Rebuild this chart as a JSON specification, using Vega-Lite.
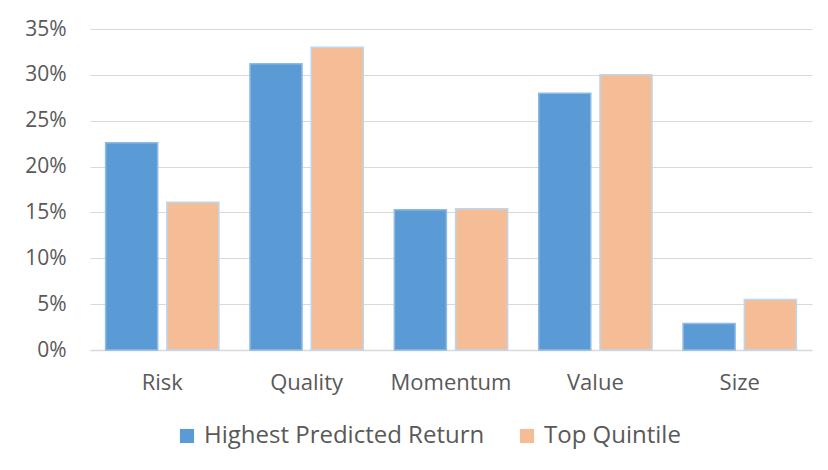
{
  "$schema": "https://vega.github.io/schema/vega-lite/v6.json",
  "width": 722,
  "height": 321,
  "autosize": {"type": "none"},
  "padding": {"left": 90, "top": 29, "right": 16, "bottom": 120},
  "background": "white",
  "data": {
    "values": [
      {"factor": "Risk", "series": "Highest Predicted Return", "value": 0.226},
      {"factor": "Risk", "series": "Top Quintile", "value": 0.161},
      {"factor": "Quality", "series": "Highest Predicted Return", "value": 0.312},
      {"factor": "Quality", "series": "Top Quintile", "value": 0.330},
      {"factor": "Momentum", "series": "Highest Predicted Return", "value": 0.153},
      {"factor": "Momentum", "series": "Top Quintile", "value": 0.154},
      {"factor": "Value", "series": "Highest Predicted Return", "value": 0.280},
      {"factor": "Value", "series": "Top Quintile", "value": 0.300},
      {"factor": "Size", "series": "Highest Predicted Return", "value": 0.029},
      {"factor": "Size", "series": "Top Quintile", "value": 0.055}
    ]
  },
  "mark": {"type": "bar", "strokeWidth": 1.5},
  "encoding": {
    "x": {
      "field": "factor", "type": "nominal",
      "sort": ["Risk", "Quality", "Momentum", "Value", "Size"],
      "scale": {"paddingInner": 0.215, "paddingOuter": 0.108},
      "axis": {"title": null, "labelAngle": 0, "ticks": false, "domainColor": "#d9d9d9", "domainWidth": 1.5,
               "labelFont": "Open Sans", "labelFontSize": 22, "labelColor": "#595959", "labelPadding": 22, "labelLimit": 0}
    },
    "xOffset": {
      "field": "series", "type": "nominal",
      "scale": {"paddingInner": 0.15, "paddingOuter": 0}
    },
    "y": {
      "field": "value", "type": "quantitative",
      "scale": {"domain": [0, 0.35], "nice": false},
      "axis": {"title": null, "format": ".0%", "values": [0, 0.05, 0.1, 0.15, 0.2, 0.25, 0.3, 0.35],
               "domain": false, "ticks": false, "gridColor": "#d9d9d9", "gridWidth": 1.2,
               "labelFont": "Open Sans", "labelFontSize": 21, "labelColor": "#595959", "labelPadding": 24}
    },
    "color": {
      "field": "series", "type": "nominal",
      "scale": {"domain": ["Highest Predicted Return", "Top Quintile"], "range": ["#5b9bd5", "#f5bd96"]},
      "legend": {
        "title": null, "orient": "none", "direction": "horizontal", "legendX": 85, "legendY": 395,
        "symbolType": "square", "symbolSize": 200, "symbolStrokeWidth": 0, "labelLimit": 0,
        "labelFont": "Open Sans", "labelFontSize": 24, "labelColor": "#595959", "columnPadding": 30, "labelOffset": 5
      }
    },
    "stroke": {
      "field": "series", "type": "nominal",
      "scale": {"domain": ["Highest Predicted Return", "Top Quintile"], "range": ["#8fbbe3", "#bcd6ee"]},
      "legend": null
    }
  },
  "config": {"view": {"stroke": null}}
}
